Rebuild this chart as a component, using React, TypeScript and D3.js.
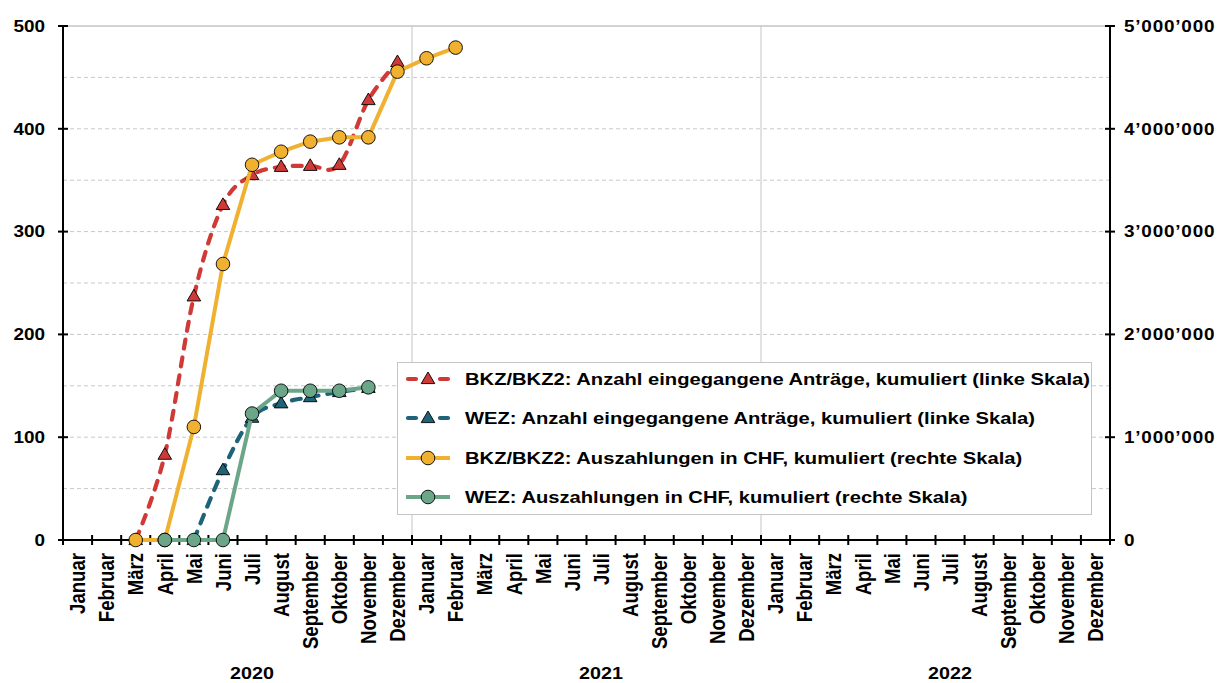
import React from 'react';
import * as d3 from 'd3';

const monthNames = ['Januar','Februar','März','April','Mai','Juni','Juli','August','September','Oktober','November','Dezember'];
const years = ['2020','2021','2022'];
const leftTicks = [0,100,200,300,400,500];
const rightTicks = [0,1000000,2000000,3000000,4000000,5000000];
const rightTickLabels = ['0',"1’000’000","2’000’000","3’000’000","4’000’000","5’000’000"];

// month index 0 = Januar 2020
const bkzAntraege: (number|null)[] = [null,null,0,83,237,326,355,363,364,365,428,465];
const wezAntraege: (number|null)[] = [null,null,null,null,0,68,119,133,139,144,148];
const bkzAuszahlungen: (number|null)[] = [null,null,0,0,1100000,2685000,3650000,3777000,3875000,3917000,3917000,4556000,4686000,4790000];
const wezAuszahlungen: (number|null)[] = [null,null,null,0,0,0,1230000,1452000,1452000,1452000,1485000];

const legendLabels = [
  'BKZ/BKZ2: Anzahl eingegangene Anträge, kumuliert (linke Skala)',
  'WEZ: Anzahl eingegangene Anträge, kumuliert (linke Skala)',
  'BKZ/BKZ2: Auszahlungen in CHF, kumuliert (rechte Skala)',
  'WEZ: Auszahlungen in CHF, kumuliert (rechte Skala)',
];

const RED = '#cf3a36';
const TEAL = '#1f6378';
const YELLOW = '#f0b030';
const GREEN = '#6ca689';
const FONT = '"Liberation Sans", Arial, sans-serif';
const SX = 1.16;

const X0 = 63, X1 = 1110, Y0 = 540, Y1 = 26;

const x = d3.scaleBand<number>().domain(d3.range(36)).range([X0, X1]).padding(0);
const cx = (i: number) => (x(i) as number) + x.bandwidth() / 2;
const yL = d3.scaleLinear().domain([0, 500]).range([Y0, Y1]);
const yR = d3.scaleLinear().domain([0, 5000000]).range([Y0, Y1]);

function pts(arr: (number|null)[], y: d3.ScaleLinear<number, number>) {
  return arr.map((v, i) => (v == null ? null : [cx(i), y(v)] as [number, number])).filter(Boolean) as [number, number][];
}

const triPath = 'M0,-7 L6.8,4.6 L-6.8,4.6 Z';

function T(props: { x: number; y: number; anchor?: string; size: number; rot?: boolean; dy?: string; len?: number; children: React.ReactNode }) {
  const { x, y, anchor = 'start', size, rot, dy, len, children } = props;
  return (
    <text
      transform={`translate(${x},${y}) scale(${SX},1)${rot ? ' rotate(-90)' : ''}`}
      textAnchor={anchor}
      fontSize={size}
      fontWeight="bold"
      fontFamily={FONT}
      dy={dy}
      fill="#000"
      textLength={len}
      lengthAdjust={len ? 'spacing' : undefined}
    >
      {children}
    </text>
  );
}

export default function App() {
  const smooth = d3.line().curve(d3.curveCatmullRom.alpha(0));
  const straight = d3.line();

  const redPts = pts(bkzAntraege, yL);
  const tealPts = pts(wezAntraege, yL);
  const yelPts = pts(bkzAuszahlungen, yR);
  const grnPts = pts(wezAuszahlungen, yR);

  const gridVals = d3.range(50, 500, 50);
  const monthsAll = years.flatMap(() => monthNames);

  const legendRowsY = [379, 418, 458, 497];

  return (
    <svg width={1218} height={683} style={{ position: 'absolute', left: 0, top: 0, background: '#fff' }}>
      <rect x={0} y={0} width={1218} height={683} fill="#fff" />
      {/* grid */}
      {gridVals.map(v => (
        <line key={v} x1={X0} x2={X1} y1={yL(v)} y2={yL(v)} stroke="#c8c8c8" strokeWidth={1} strokeDasharray="4,3" />
      ))}
      <line x1={X0} x2={X1} y1={yL(500)} y2={yL(500)} stroke="#c4c4c4" strokeWidth={1.5} />
      {[12, 24].map(i => (
        <line key={i} x1={x(i) as number} x2={x(i) as number} y1={Y1} y2={Y0} stroke="#c4c4c4" strokeWidth={1} />
      ))}

      {/* axes */}
      <line x1={X0} x2={X0} y1={Y1} y2={Y0} stroke="#000" strokeWidth={2} />
      <line x1={X1} x2={X1} y1={Y1} y2={Y0} stroke="#000" strokeWidth={2} />
      <line x1={X0} x2={X1} y1={Y0} y2={Y0} stroke="#000" strokeWidth={2} />
      {leftTicks.map(v => (
        <line key={'lt' + v} x1={X0 - 5} x2={X0 + 5} y1={yL(v)} y2={yL(v)} stroke="#000" strokeWidth={2} />
      ))}
      {rightTicks.map(v => (
        <line key={'rt' + v} x1={X1 - 5} x2={X1 + 5} y1={yR(v)} y2={yR(v)} stroke="#000" strokeWidth={2} />
      ))}
      {d3.range(37).map(i => {
        const xx = i < 36 ? (x(i) as number) : X1;
        return <line key={'xt' + i} x1={xx} x2={xx} y1={Y0 - 5} y2={Y0 + 5} stroke="#000" strokeWidth={2} />;
      })}

      {/* axis labels */}
      {leftTicks.map(v => (
        <T key={'ll' + v} x={45} y={yL(v)} anchor="end" size={16.3} dy="0.36em">{String(v)}</T>
      ))}
      {rightTicks.map((v, i) => (
        <T key={'rl' + v} x={1124} y={yR(v)} anchor="start" size={16.3} dy="0.36em" len={i > 0 ? 78 : undefined}>{rightTickLabels[i]}</T>
      ))}
      {monthsAll.map((m, i) => (
        <T key={'m' + i} x={cx(i)} y={553} anchor="end" size={18.6} rot dy="0.36em">{m}</T>
      ))}
      {years.map((yr, k) => (
        <T key={yr} x={cx(k * 12 + 6)} y={679} anchor="middle" size={17}>{yr}</T>
      ))}

      {/* series: left axis */}
      <path d={smooth(redPts) || ''} fill="none" stroke={RED} strokeWidth={4.2} strokeDasharray="9,9" strokeLinecap="round" />
      {redPts.map((p, i) => (
        <path key={'rp' + i} d={triPath} transform={`translate(${p[0]},${p[1]})`} fill={RED} stroke="#000" strokeWidth={0.9} />
      ))}
      <path d={smooth(tealPts) || ''} fill="none" stroke={TEAL} strokeWidth={4.2} strokeDasharray="9,9" strokeLinecap="round" />
      {tealPts.map((p, i) => (
        <path key={'tp' + i} d={triPath} transform={`translate(${p[0]},${p[1]})`} fill={TEAL} stroke="#000" strokeWidth={0.9} />
      ))}

      {/* series: right axis */}
      <path d={straight(yelPts) || ''} fill="none" stroke={YELLOW} strokeWidth={4} strokeLinejoin="round" />
      {yelPts.map((p, i) => (
        <circle key={'yp' + i} cx={p[0]} cy={p[1]} r={6.8} fill={YELLOW} stroke="#000" strokeWidth={0.9} />
      ))}
      <path d={straight(grnPts) || ''} fill="none" stroke={GREEN} strokeWidth={4} strokeLinejoin="round" />
      {grnPts.map((p, i) => (
        <circle key={'gp' + i} cx={p[0]} cy={p[1]} r={6.8} fill={GREEN} stroke="#000" strokeWidth={0.9} />
      ))}

      {/* legend */}
      <rect x={397.5} y={362.5} width={694} height={152} fill="#fff" stroke="#c4c4c4" strokeWidth={1} />
      {legendLabels.map((lab, i) => {
        const ly = legendRowsY[i];
        const color = [RED, TEAL, YELLOW, GREEN][i];
        const dashed = i < 2;
        return (
          <g key={'lg' + i}>
            {dashed ? (
              <g>
                <line x1={408} x2={416} y1={ly} y2={ly} stroke={color} strokeWidth={4.2} strokeLinecap="round" />
                <line x1={440} x2={448} y1={ly} y2={ly} stroke={color} strokeWidth={4.2} strokeLinecap="round" />
                <path d={triPath} transform={`translate(428,${ly})`} fill={color} stroke="#000" strokeWidth={0.9} />
              </g>
            ) : (
              <g>
                <line x1={406} x2={450} y1={ly} y2={ly} stroke={color} strokeWidth={4} />
                <circle cx={428} cy={ly} r={6.8} fill={color} stroke="#000" strokeWidth={0.9} />
              </g>
            )}
            <T x={465} y={ly} size={17.4} dy="0.36em">{lab}</T>
          </g>
        );
      })}
    </svg>
  );
}
